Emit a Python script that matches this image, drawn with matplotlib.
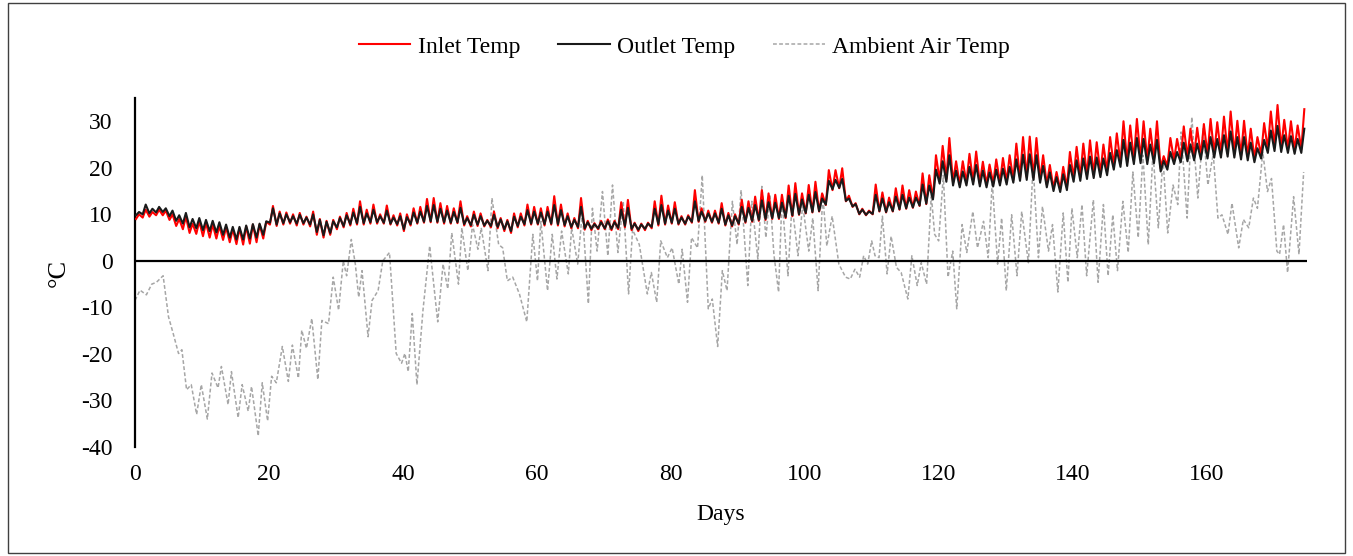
import numpy as np
import matplotlib
matplotlib.use("Agg")
import matplotlib.pyplot as plt
from matplotlib.patches import Rectangle

plt.rcParams['font.family'] = ['Liberation Serif', 'DejaVu Serif']
plt.rcParams['axes.unicode_minus'] = False

# ---------------- data ----------------
# daily peak / trough of inlet and outlet temperatures (deg C), days 0..174
inlet_hi = [10.0, 11.0, 10.5, 11.0, 10.8, 10.0, 9.0, 9.5, 8.0, 8.5,
            8.2, 7.8, 7.5, 7.2, 6.8, 7.0, 7.4, 7.8, 7.8, 8.4,
            11.8, 10.6, 10.4, 10.0, 10.3, 9.5, 10.6, 9.0, 8.6, 8.8,
            9.5, 10.3, 11.2, 12.8, 11.0, 12.1, 10.0, 11.9, 9.8, 10.2,
            10.0, 11.3, 11.6, 13.3, 13.5, 12.4, 11.8, 11.3, 12.8, 9.6,
            10.6, 10.2, 8.8, 10.6, 9.2, 8.8, 10.2, 10.2, 12.1, 11.6,
            11.3, 11.6, 13.9, 12.1, 10.2, 9.2, 13.5, 8.6, 8.1, 8.6,
            8.9, 8.6, 12.6, 13.1, 8.2, 8.0, 8.2, 12.8, 14.0, 11.9,
            12.6, 9.6, 9.8, 15.2, 11.3, 10.8, 10.8, 12.4, 10.3, 10.0,
            13.1, 12.8, 13.8, 15.2, 14.5, 14.2, 14.2, 16.2, 16.7, 14.5,
            16.3, 17.0, 14.5, 19.5, 19.5, 19.9, 14.0, 12.4, 11.2, 10.8,
            16.4, 14.7, 13.6, 15.6, 16.2, 15.2, 14.9, 18.8, 18.4, 22.7,
            24.7, 26.4, 21.4, 21.4, 23.0, 23.5, 21.3, 20.7, 21.8, 22.1,
            22.7, 25.2, 26.6, 26.7, 26.4, 22.7, 20.6, 19.1, 20.2, 23.4,
            24.5, 25.2, 25.9, 25.5, 25.0, 26.6, 27.4, 30.0, 29.1, 30.5,
            30.0, 28.4, 30.0, 22.5, 26.4, 26.2, 28.9, 28.4, 28.6, 29.4,
            30.5, 29.8, 31.0, 32.1, 30.1, 30.1, 28.4, 26.6, 29.6, 32.1,
            33.5, 30.3, 30.0, 29.1, 32.6]
inlet_lo = [9.0, 9.3, 9.5, 9.8, 9.8, 8.8, 7.5, 6.8, 6.0, 5.8,
            5.3, 5.0, 4.8, 4.5, 4.0, 3.6, 3.5, 3.7, 4.0, 4.8,
            7.8, 7.5, 7.8, 8.0, 7.6, 7.8, 7.4, 5.6, 5.0, 5.6,
            6.8, 7.2, 7.6, 7.8, 7.8, 8.0, 8.0, 8.0, 7.8, 7.6,
            6.4, 7.6, 8.0, 8.2, 8.3, 8.2, 8.0, 8.0, 8.1, 7.6,
            7.4, 7.5, 7.4, 7.2, 7.0, 6.4, 6.0, 7.2, 7.6, 7.8,
            7.8, 7.6, 7.8, 7.6, 7.4, 7.0, 7.0, 6.7, 6.6, 6.8,
            6.8, 6.6, 6.8, 7.2, 6.6, 6.4, 6.6, 7.0, 7.6, 7.8,
            8.0, 7.8, 7.8, 8.2, 8.4, 8.4, 8.2, 8.0, 7.6, 7.4,
            7.8, 8.2, 8.4, 8.6, 8.8, 9.0, 9.0, 9.2, 9.6, 9.9,
            10.2, 10.4, 10.6, 12.0, 15.2, 15.6, 12.8, 11.6, 10.0, 9.8,
            10.0, 10.6, 10.4, 10.6, 11.0, 11.2, 11.4, 11.8, 12.2, 13.4,
            17.2, 17.6, 16.8, 16.4, 16.8, 17.0, 16.6, 16.4, 16.6, 16.8,
            17.0, 17.4, 17.8, 18.0, 18.0, 17.4, 16.4, 15.6, 15.4, 15.8,
            17.8, 18.0, 18.4, 18.6, 18.8, 19.2, 20.4, 21.0, 21.2, 21.6,
            21.8, 21.6, 21.8, 19.9, 20.4, 21.6, 22.0, 22.2, 22.4, 22.6,
            22.8, 23.0, 23.0, 23.2, 23.0, 22.6, 22.4, 22.0, 22.8, 24.0,
            24.5, 24.2, 24.0, 23.8, 24.0]
outlet_hi = [10.5, 12.1, 11.2, 11.6, 11.3, 10.8, 9.8, 10.3, 9.0, 9.2,
             8.8, 8.6, 8.3, 7.8, 7.3, 7.3, 7.6, 7.9, 8.0, 8.5,
             11.3, 10.2, 10.0, 9.6, 9.9, 9.3, 10.0, 8.8, 8.4, 8.5,
             9.2, 9.8, 10.4, 11.6, 10.2, 11.0, 9.6, 10.8, 9.3, 9.6,
             9.4, 10.4, 10.6, 11.8, 12.0, 11.2, 10.8, 10.5, 11.4, 9.2,
             9.9, 9.6, 8.6, 9.9, 8.9, 8.5, 9.5, 9.5, 10.9, 10.6,
             10.4, 10.6, 12.0, 10.9, 9.6, 8.8, 11.6, 8.3, 7.9, 8.3,
             8.5, 8.3, 11.0, 11.4, 8.0, 7.8, 8.0, 11.2, 12.0, 10.8,
             11.2, 9.3, 9.5, 12.8, 10.6, 10.2, 10.2, 11.2, 9.8, 9.6,
             11.6, 11.4, 12.0, 13.0, 12.6, 12.5, 12.5, 14.0, 14.4, 13.2,
             14.2, 14.8, 13.4, 17.2, 17.4, 17.6, 13.4, 12.2, 11.0, 10.6,
             14.2, 13.4, 12.6, 13.8, 14.2, 13.6, 13.6, 16.4, 16.2, 19.6,
             21.4, 22.7, 19.4, 19.2, 20.2, 20.6, 19.4, 19.0, 19.6, 19.8,
             20.2, 21.8, 22.8, 22.9, 22.7, 20.4, 19.0, 18.0, 18.6, 20.6,
             21.6, 22.0, 22.4, 22.2, 22.0, 23.2, 23.8, 26.0, 25.4, 26.4,
             26.2, 25.0, 26.0, 21.5, 23.4, 23.4, 25.4, 25.0, 25.2, 25.8,
             26.6, 26.2, 27.0, 27.8, 26.6, 26.6, 25.4, 24.2, 26.0, 28.0,
             29.0, 27.0, 26.8, 26.2, 28.4]
outlet_lo = [9.8, 10.0, 10.2, 10.4, 10.5, 9.6, 8.6, 8.0, 7.2, 7.0,
             6.6, 6.4, 6.1, 5.6, 5.0, 4.6, 4.6, 4.8, 5.0, 5.6,
             8.2, 7.8, 8.1, 8.3, 8.0, 8.1, 7.8, 6.2, 5.5, 6.0,
             7.2, 7.5, 7.9, 8.1, 8.1, 8.3, 8.3, 8.2, 8.0, 7.9,
             6.8, 7.9, 8.2, 8.4, 8.5, 8.4, 8.3, 8.2, 8.3, 7.9,
             7.7, 7.8, 7.6, 7.5, 7.3, 6.8, 6.4, 7.5, 7.9, 8.0,
             8.0, 7.9, 8.0, 7.9, 7.7, 7.3, 7.3, 7.0, 6.9, 7.0,
             7.0, 6.9, 7.1, 7.5, 6.9, 6.7, 6.9, 7.3, 7.9, 8.0,
             8.2, 8.0, 8.0, 8.4, 8.6, 8.6, 8.4, 8.2, 7.8, 7.6,
             8.0, 8.4, 8.6, 8.8, 9.0, 9.2, 9.2, 9.4, 9.8, 10.0,
             10.3, 10.5, 10.7, 12.1, 15.4, 15.7, 12.9, 11.7, 10.1, 9.9,
             10.1, 10.7, 10.5, 10.7, 11.1, 11.3, 11.5, 11.9, 12.3, 13.2,
             16.6, 17.0, 16.2, 15.8, 16.2, 16.4, 16.0, 15.8, 16.0, 16.2,
             16.4, 16.8, 17.2, 17.4, 17.4, 16.8, 15.8, 15.0, 14.8, 15.2,
             17.0, 17.2, 17.6, 17.8, 18.0, 18.4, 19.6, 20.2, 20.4, 20.8,
             21.0, 20.8, 21.0, 19.2, 19.6, 20.8, 21.2, 21.4, 21.6, 21.8,
             22.0, 22.2, 22.2, 22.4, 22.2, 21.8, 21.6, 21.2, 22.0, 23.2,
             23.6, 23.4, 23.2, 23.0, 23.2]

# ambient air temperature: (day, value) readings of its turning points
ambient_days = [0.0, 0.75, 1.7, 2.5, 3.2, 4.2, 5.0, 5.7, 6.5, 7.0, 7.7, 8.4, 9.2, 9.9,
                10.8, 11.5, 12.4, 12.9, 13.9, 14.4, 15.4, 16.0, 16.9, 17.4, 18.4, 19.0,
                19.8, 20.4, 21.1, 22.0, 22.9, 23.5, 24.4, 24.9, 25.6, 26.4, 27.3, 27.9,
                28.9, 29.6, 30.4, 31.1, 31.6, 32.3, 32.9, 33.4, 33.9, 34.8, 35.4, 36.3,
                37.0, 38.0, 39.0, 39.8, 40.3, 40.8, 41.4, 42.1, 43.0, 44.0,
                45.2, 46.0, 46.7, 47.3, 48.3, 48.8, 49.7, 50.4, 51.2, 51.7, 52.7, 53.3,
                54.3, 54.9, 55.6, 56.4, 57.4, 58.5, 59.4, 60.1, 60.6, 61.6, 62.3, 63.0,
                63.7, 64.7, 65.2, 66.1, 66.8, 67.7, 68.3, 69.0, 69.8, 70.6, 71.3, 72.1,
                72.9, 73.7, 74.3, 75.3, 76.5, 77.1, 77.9, 78.5, 79.5, 80.2, 81.2, 81.7,
                82.5, 83.1, 84.0, 84.7, 85.6, 86.2, 87.0,
                87.7, 88.4, 89.2, 89.9, 90.5, 91.5, 92.1, 93.0, 93.6, 94.2, 94.8, 95.4,
                96.1, 96.6, 97.5, 98.1, 99.0, 99.7, 100.6, 101.2, 102.0, 102.7, 103.3,
                104.1, 105.1, 106.1, 106.8, 107.5, 108.2, 108.8, 109.4, 110.0, 110.5,
                111.1, 111.6, 112.3, 112.9, 113.7, 114.4, 115.4, 116.0, 116.8, 117.4,
                118.2, 118.9, 119.4, 120.0, 120.7, 121.4, 122.1, 122.7, 123.5, 124.2,
                125.1, 125.8, 126.7, 127.4, 128.0, 128.8,
                129.4, 130.1, 130.9, 131.7, 132.4, 133.4, 134.1, 134.9, 135.5, 136.4,
                137.0, 137.8, 138.6, 139.3, 139.9, 140.7, 141.4, 142.1, 143.1, 143.8,
                144.6, 145.3, 146.0, 146.7, 147.5, 148.3, 149.0, 149.8, 150.5, 151.3,
                152.0, 152.8, 153.5, 154.2, 155.0, 155.7, 156.2, 157.1, 157.8, 158.7,
                159.5, 160.2, 161.0, 161.7, 162.3, 163.2, 163.8, 164.8, 165.5, 166.3,
                167.0, 167.6, 168.4, 169.1, 169.7, 170.5, 170.9, 171.5, 172.1, 173.0,
                173.8, 174.5]
ambient_vals = [-8.5, -6.3, -7.3, -5.0, -4.6, -3.2, -12.0, -15.6, -19.9, -19.1, -27.7, -26.6, -33.0, -26.6,
                -34.0, -24.1, -27.3, -22.7, -30.9, -23.8, -33.7, -26.6, -32.3, -27.0, -37.6, -26.2,
                -34.4, -24.8, -26.2, -18.4, -25.9, -18.1, -25.2, -14.9, -18.8, -12.4, -25.5, -12.8,
                -13.5, -3.5, -10.6, 0.0, -3.2, 4.6, -0.7, -7.8, -2.1, -16.3, -8.5, -6.4,
                0.0, 1.8, -19.9, -22.0, -19.9, -23.8, -11.3, -26.6, -10.6, 3.2,
                -13.1, -0.7, -6.0, 6.0, -5.0, 7.1, -2.1, 7.8, 2.5, 7.1, -2.1, 13.5,
                3.5, 2.8, -4.3, -3.5, -7.1, -13.1, 5.7, -4.3, 8.5, -6.4, 5.7, -3.9,
                6.4, -2.8, 7.1, -0.7, 10.6, -9.2, 11.3, 2.1, 14.9, 1.1, 16.3, 1.8,
                12.8, -7.1, 6.7, 3.5, -7.1, -2.5, -8.9, 4.3, 0.7, 2.8, -5.0, 2.5,
                -8.9, 5.0, 2.8, 18.4, -10.3, -8.2, -18.4,
                -2.1, -6.4, 12.8, 3.5, 15.2, -5.3, 12.8, 0.4, 16.0, 5.0, 14.2, 1.4,
                -6.7, 13.5, -3.2, 12.1, 1.1, 12.1, 2.1, 9.2, -6.4, 14.2, 3.2,
                9.6, -0.7, -3.5, -3.9, -1.8, -3.5, 1.1, -0.7, 4.3, 1.1,
                0.7, 9.6, -2.8, 5.3, -1.4, -2.5, -8.2, 1.1, -5.3, -0.4,
                -5.0, 14.2, 5.7, 4.3, 18.4, -3.5, 2.1, -10.3, 7.8, 1.8,
                10.6, 2.8, 8.5, 0.7, 17.0, -0.7,
                9.2, -6.4, 9.9, -3.2, 10.6, -0.4, 20.6, 0.7, 11.7, 2.1,
                7.8, -6.7, 10.3, -4.6, 11.3, 0.7, 12.1, -3.2, 13.1, -4.6,
                12.1, -3.2, 9.9, -2.1, 12.8, 1.8, 19.1, 5.0, 22.7, 3.5,
                23.4, 7.1, 22.0, 6.0, 16.3, 12.1, 27.7, 9.2, 30.9, 13.5,
                28.4, 16.3, 23.0, 9.2, 9.9, 5.7, 12.4, 2.8, 8.9, 7.1,
                13.5, 11.3, 23.4, 14.9, 17.7, 2.1, 1.4, 7.8, -2.5, 13.8,
                1.4, 19.1]

series_labels = ["Inlet Temp", "Outlet Temp", "Ambient Air Temp"]
x_ticks = [0, 20, 40, 60, 80, 100, 120, 140, 160]
y_ticks = [-40, -30, -20, -10, 0, 10, 20, 30]

# ---------------- build series ----------------
d = np.arange(len(inlet_hi))
t_daily = np.column_stack([d + 0.15, d + 0.6]).ravel()
inlet = np.column_stack([inlet_lo, inlet_hi]).ravel()
outlet = np.column_stack([outlet_lo, outlet_hi]).ravel()

# ---------------- figure ----------------
W, H = 1353, 556
fig = plt.figure(figsize=(W / 100, H / 100), dpi=100)
ax = fig.add_axes([135 / W, 1 - 447 / H, (1307 - 135) / W, (447 - 98) / H])

FS = 17
l3, = ax.plot(ambient_days, ambient_vals, color="#A6A6A6", lw=1.1,
              linestyle=(0, (2.5, 1.5)), label=series_labels[2], zorder=2)
l1, = ax.plot(t_daily, inlet, color="#FF0000", lw=1.5, label=series_labels[0], zorder=3)
l2, = ax.plot(t_daily, outlet, color="#1a1a1a", lw=1.5, label=series_labels[1], zorder=4)
ax.axhline(0, color="black", lw=1.6, zorder=5)

ax.set_xlim(0, 175)
ax.set_ylim(-40, 35)
ax.set_xticks(x_ticks)
ax.set_yticks(y_ticks)
ax.tick_params(axis="both", length=0, labelsize=FS)
ax.tick_params(axis="y", pad=16)
ax.tick_params(axis="x", pad=12)
for s in ["top", "right", "bottom"]:
    ax.spines[s].set_visible(False)
ax.spines["left"].set_linewidth(1.6)
ax.spines["left"].set_color("black")

ax.set_xlabel("Days", fontsize=FS, labelpad=14)
ax.set_ylabel("°C", fontsize=FS + 2, labelpad=8)

fig.legend(handles=[l1, l2, l3], labels=series_labels, loc="center",
           bbox_to_anchor=(684 / W, 1 - 47 / H), ncol=3, frameon=False,
           fontsize=FS, handlelength=2.2, handletextpad=0.3, columnspacing=1.6)

fig.patches.append(Rectangle((8 / W, 3 / H), (W - 16) / W, (H - 6) / H,
                             transform=fig.transFigure, fill=False,
                             edgecolor="#404040", lw=1.0))

fig.savefig("out.png", dpi=100)
